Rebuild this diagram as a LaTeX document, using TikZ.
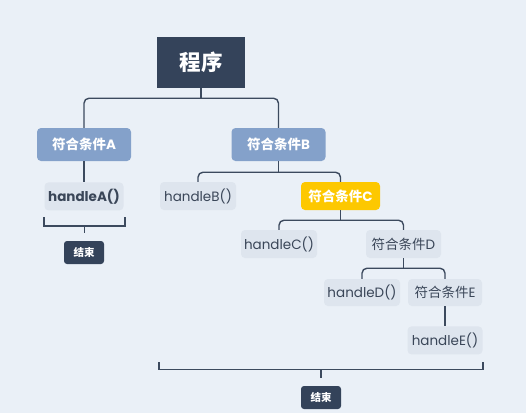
\documentclass[tikz,border=0pt]{standalone}
\usepackage{fontspec}
\setmainfont{Poppins}
\newfontfamily\cjk{Noto Sans CJK SC}
\usetikzlibrary{positioning}

\definecolor{bgc}{HTML}{EAF0F7}
\definecolor{darkc}{HTML}{34435A}
\definecolor{linec}{HTML}{3C4A5E}
\definecolor{condc}{HTML}{84A1CA}
\definecolor{grayc}{HTML}{DEE5EE}
\definecolor{yellowc}{HTML}{FDC800}
\definecolor{textc}{HTML}{3A4658}

\begin{document}
\begin{tikzpicture}[x=1pt,y=-1pt,inner sep=0pt,
                    link/.style={draw=linec,line width=1.4pt},
                    root/.style={fill=darkc,text=white,minimum width=88pt,minimum height=51pt,
                                 font=\cjk\bfseries\fontsize{21.5}{24}\selectfont},
                    cond/.style={fill=condc,text=white,rounded corners=4pt,minimum width=94pt,
                                 minimum height=33pt,font=\bfseries\fontsize{13.5}{16}\selectfont},
                    leaf/.style={fill=grayc,text=textc,rounded corners=4pt,minimum width=76pt,
                                 minimum height=28pt,font=\fontsize{13.5}{16}\selectfont},
                    hot/.style={leaf,fill=yellowc,text=white,font=\bfseries\fontsize{13.5}{16}\selectfont},
                    stop/.style={fill=darkc,text=white,rounded corners=3pt,minimum width=40pt,
                                 minimum height=23pt,font=\cjk\bfseries\fontsize{10.5}{12}\selectfont}]

  \fill[bgc] (0,0) rectangle (526,413);
  \useasboundingbox (0,0) rectangle (526,413);

  \node[root] (P) at (201,62.5) {程序};
  \node[cond] (A) at (84,144.5) {{\cjk 符合条件}A};
  \node[cond] (B) at (278.5,144.5) {{\cjk 符合条件}B};

  \node[leaf,minimum width=79pt,font=\bfseries\fontsize{13.5}{16}\selectfont]
       (hA) [below=21pt of A] {handleA()};
  \node[leaf]          (hB) at (198,196)   {handleB()};
  \node[hot,minimum width=79pt] (C) at (340.5,196) {{\cjk 符合条件}C};
  \node[leaf]          (hC) at (279,244)   {handleC()};
  \node[leaf,minimum width=75pt] (D) at (403.5,244) {{\cjk 符合条件}D};
  \node[leaf,minimum height=27pt] (hD) at (362,292.5) {handleD()};
  \node[leaf,minimum width=74pt,minimum height=27pt] (E) at (445,292.5) {{\cjk 符合条件}E};
  \node[leaf,minimum width=75pt] (hE) [below=20pt of E] {handleE()};

  \node[stop] (endA) at (84,252.5) {结束};
  \node[stop] (endB) at (321,397.5) {结束};

  % branches
  \draw[link] (P.south) -- ++(0,10) coordinate (pj);
  \draw[link,rounded corners=5pt] (A.north) |- (pj) -| (B.north);
  \draw[link] (A.south) -- (hA.north);

  \draw[link] (B.south) -- ++(0,11) coordinate (bj);
  \draw[link,rounded corners=5pt] (hB.north) |- (bj) -| (C.north);

  \draw[link] (C.south) -- ++(0,10) coordinate (cj);
  \draw[link,rounded corners=5pt] (hC.north) |- (cj) -| (D.north);

  \draw[link] (D.south) -- ++(0,10) coordinate (dj);
  \draw[link,rounded corners=5pt] (hD.north) |- (dj) -| (E.north);
  \draw[link] (E.south) -- (hE.north);

  % brackets
  \coordinate (ka) at (84.5,226);
  \draw[link] (44,217) |- (125,226) -- (125,217);
  \draw[link] (ka) -- ++(0,7);

  \coordinate (kb) at (321,369.5);
  \draw[link] (159,362) |- (483,369.5) -- (483,362);
  \draw[link] (kb) -- ++(0,8);
\end{tikzpicture}
\end{document}
